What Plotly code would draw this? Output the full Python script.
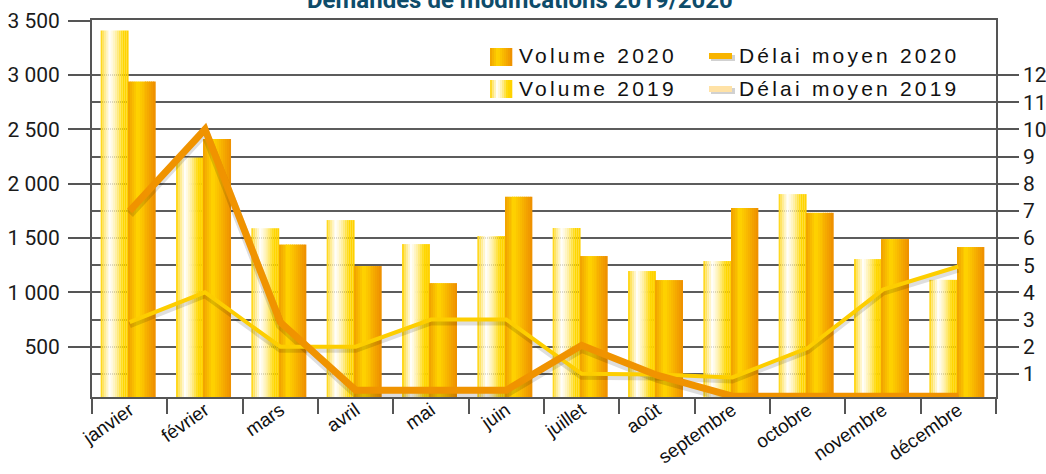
import plotly.graph_objects as go

# ---------------- data ----------------
months = ["janvier", "février", "mars", "avril", "mai", "juin", "juillet",
          "août", "septembre", "octobre", "novembre", "décembre"]
vol_2019 = [3410, 2240, 1590, 1665, 1444, 1518, 1592, 1196, 1288, 1904, 1306, 1115]
vol_2020 = [2940, 2410, 1440, 1242, 1085, 1880, 1334, 1113, 1776, 1732, 1490, 1417]
delai_2019 = [2.9, 4.0, 2.0, 2.0, 3.0, 3.0, 1.0, 0.98, 0.87, 1.95, 4.1, 4.95]
delai_2020 = [7.0, 10.0, 2.9, 0.4, 0.4, 0.4, 2.05, 0.95, 0.18, 0.18, 0.18, 0.18]
left_tickvals = [500, 1000, 1500, 2000, 2500, 3000, 3500]
left_ticktext = ["500", "1 000", "1 500", "2 000", "2 500", "3 000", "3 500"]
right_tickvals = [1, 2, 3, 4, 5, 6, 7, 8, 9, 10, 11, 12]
title_text = "Demandes de modifications 2019/2020"
legend_labels = ["Volume 2020", "Délai moyen 2020", "Volume 2019", "Délai moyen 2019"]

# ---------------- styling helpers ----------------
def hex2rgb(h):
    h = h.lstrip("#")
    return tuple(int(h[i:i + 2], 16) for i in (0, 2, 4))

def grad(stops, t):
    for (t0, c0), (t1, c1) in zip(stops, stops[1:]):
        if t0 <= t <= t1:
            f = 0 if t1 == t0 else (t - t0) / (t1 - t0)
            a, b = hex2rgb(c0), hex2rgb(c1)
            r = [round(a[k] + (b[k] - a[k]) * f) for k in range(3)]
            return "rgb(%d,%d,%d)" % tuple(r)
    return stops[-1][1]

stops_2019 = [(0, "#FFD200"), (0.12, "#FFE670"), (0.33, "#FFFFFF"), (0.55, "#FFEFA0"),
              (0.8, "#FFD800"), (1, "#FFD000")]
stops_2020 = [(0, "#F0A000"), (0.35, "#FFD500"), (0.65, "#F8B400"), (1, "#EE8E00")]

L_RANGE = [37, 3506]
R_SCALE = 250.0
SHADOW_DY = 0.11  # right-axis units (~3 px)

fig = go.Figure()

N = 14
w19, off19 = 0.37, -0.385
w20, off20 = 0.36, -0.015
for i in range(N):
    t = (i + 0.5) / N
    fig.add_bar(x=months, y=vol_2019, offset=off19 + i * w19 / N, width=w19 / N * 1.02,
                marker=dict(color=grad(stops_2019, t), line=dict(width=0)),
                showlegend=False, hoverinfo="skip")
for i in range(N):
    t = (i + 0.5) / N
    fig.add_bar(x=months, y=vol_2020, offset=off20 + i * w20 / N, width=w20 / N * 1.02,
                marker=dict(color=grad(stops_2020, t), line=dict(width=0)),
                showlegend=False, hoverinfo="skip")

# soft shadows (on shifted hidden axis y2)
fig.add_scatter(x=months, y=delai_2019, yaxis="y2", mode="lines",
                line=dict(color="rgba(0,0,0,0.13)", width=6), showlegend=False, hoverinfo="skip")
fig.add_scatter(x=months, y=delai_2020, yaxis="y2", mode="lines",
                line=dict(color="rgba(0,0,0,0.13)", width=9), showlegend=False, hoverinfo="skip")
# lines (on visible right axis y3)
fig.add_scatter(x=months, y=delai_2019, yaxis="y3", mode="lines",
                line=dict(color="#FDCE00", width=4), showlegend=False, hoverinfo="skip")
fig.add_scatter(x=months, y=delai_2020, yaxis="y3", mode="lines",
                line=dict(color="#F09300", width=7), showlegend=False, hoverinfo="skip")

AX = "#555555"
fig.update_layout(
    width=1046, height=474,
    margin=dict(l=92, r=50, t=20, b=77),
    paper_bgcolor="white", plot_bgcolor="white",
    barmode="overlay", showlegend=False, hovermode=False,
    xaxis=dict(type="category", categoryorder="array", categoryarray=months,
               range=[-0.5, 11.5], tickson="boundaries", ticks="outside", ticklen=15,
               tickwidth=1.5, tickcolor=AX, showline=True, linecolor=AX, linewidth=1.5,
               mirror=True, showgrid=False, tickangle=-35, automargin=False,
               ticklabelstandoff=-7,
               tickfont=dict(family="Liberation Sans, Arial, sans-serif", size=19, color="#111")),
    yaxis=dict(range=L_RANGE, tickvals=left_tickvals, ticktext=left_ticktext,
               ticks="outside", ticklen=22, tickwidth=1.5, tickcolor=AX,
               showline=True, linecolor=AX, linewidth=2, showgrid=False, zeroline=False,
               ticklabelstandoff=4, automargin=False,
               tickfont=dict(family="Roboto, sans-serif", size=21, color="#1a1a1a")),
    yaxis2=dict(overlaying="y", side="right", visible=False, automargin=False,
                range=[L_RANGE[0] / R_SCALE + SHADOW_DY, L_RANGE[1] / R_SCALE + SHADOW_DY]),
    yaxis3=dict(overlaying="y", side="right", automargin=False,
                range=[L_RANGE[0] / R_SCALE, L_RANGE[1] / R_SCALE],
                tickvals=right_tickvals, ticks="outside", ticklen=21, tickwidth=1.5, tickcolor=AX,
                showline=True, linecolor=AX, linewidth=1.5, showgrid=True,
                gridcolor="#5c5c5c", gridwidth=1.5, zeroline=False,
                tickfont=dict(family="Roboto, sans-serif", size=21, color="#1a1a1a")),
)

# ---------------- title + legend (layout decorations) ----------------
def px_x(px):
    return (px - 92) / 904.0

def px_y(py):
    return (397 - py) / 377.0

fig.add_annotation(text="<b>%s</b>" % title_text, xref="paper", yref="paper",
                   x=px_x(520), y=px_y(16), xanchor="center", yanchor="bottom", showarrow=False,
                   font=dict(family="Roboto, sans-serif", size=24, color="#0E4C6A"))

shapes = []
# gradient swatches for volumes
for row, stops in ((0, stops_2020), (1, stops_2019)):
    y0 = 48 + row * 32
    n = 11
    for i in range(n):
        x0 = 490 + i * 22.0 / n
        shapes.append(dict(type="rect", xref="paper", yref="paper",
                           x0=px_x(x0), x1=px_x(x0 + 22.0 / n + 0.3),
                           y0=px_y(y0 + 18), y1=px_y(y0),
                           fillcolor=grad(stops, (i + 0.5) / n), line=dict(width=0)))
# line swatches for délai
for row, col in ((0, "#F8B400"), (1, "#FFE2A6")):
    yc = 56 + row * 33
    shapes.append(dict(type="rect", xref="paper", yref="paper",
                       x0=px_x(711), x1=px_x(735), y0=px_y(yc + 5), y1=px_y(yc - 1),
                       fillcolor="rgba(0,0,0,0.18)", line=dict(width=0)))
    shapes.append(dict(type="rect", xref="paper", yref="paper",
                       x0=px_x(709), x1=px_x(732), y0=px_y(yc + 3), y1=px_y(yc - 3),
                       fillcolor=col, line=dict(width=0)))
fig.update_layout(shapes=shapes)

leg_pos = [(517, 56), (737, 56), (517, 88), (737, 88)]
for lab, (lx, ly) in zip(legend_labels, leg_pos):
    fig.add_annotation(text='<span style="letter-spacing:3.2px">%s</span>' % lab,
                       xref="paper", yref="paper", x=px_x(lx), y=px_y(ly),
                       xanchor="left", yanchor="middle", showarrow=False,
                       font=dict(family="Liberation Sans, Arial, sans-serif", size=21, color="#111"))

fig.write_html("out.html", config={"displayModeBar": False},
               post_script="document.body.style.margin='0';document.body.style.overflow='hidden';")
